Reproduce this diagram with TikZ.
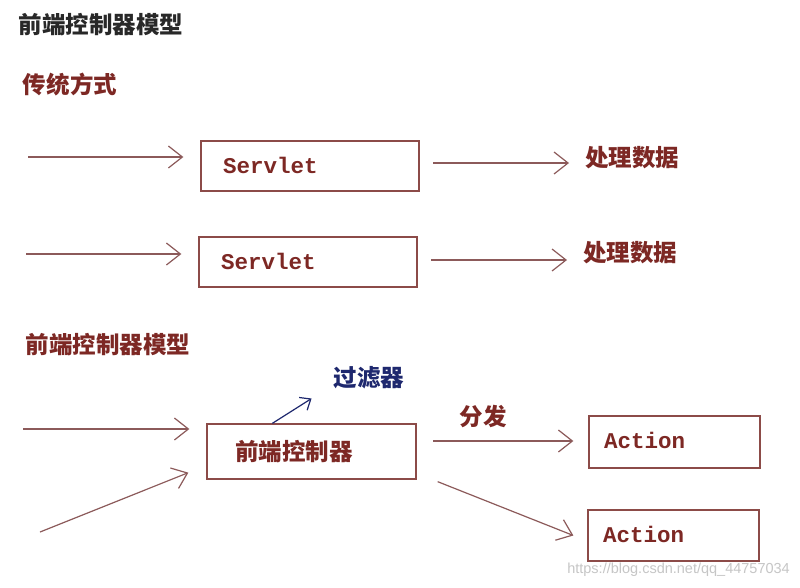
\documentclass[tikz,border=0pt]{standalone}
\usepackage{fontspec}
\newfontfamily\cjk{Noto Sans CJK SC}
\newfontfamily\mono{Liberation Mono}
\newfontfamily\wmfont{Liberation Sans}
\usetikzlibrary{arrows.meta,calc}
\definecolor{txtred}{RGB}{125,40,36}
\definecolor{boxred}{RGB}{140,75,72}
\definecolor{arrred}{RGB}{140,90,90}
\definecolor{titleblk}{RGB}{40,40,40}
\definecolor{navyblue}{RGB}{30,40,110}
\tikzset{
  cjkbold/.style={font=\cjk\bfseries\fontsize{23.5}{26}\selectfont, inner sep=0pt},
  boxnode/.style={draw=boxred, line width=1.3pt, rectangle, inner ysep=0pt, align=left,
     font=\mono\bfseries\fontsize{22.5}{24}\selectfont, text=txtred},
  arr/.style={draw=arrred, line width=1.2pt, -{Straight Barb[length=14pt,width=22pt,line width=1.2pt]}},
}
\begin{document}
\begin{tikzpicture}[x=1pt,y=-1pt]
\useasboundingbox (0,0) rectangle (800,587);
\fill[white] (0,0) rectangle (800,587);

% titles
\node[cjkbold, text=titleblk] (title) at (101,25) {前端控制器模型};
\node[cjkbold, text=txtred] (trad) at (70,84) {传统方式};
\node[cjkbold, text=txtred] (front) at (108,345) {前端控制器模型};

% traditional boxes
\node[boxnode, minimum width=218pt, minimum height=50pt, text width=174pt, inner xsep=22pt] (sv1) at (310,166) {\raisebox{1pt}{Servlet}};
\node[boxnode, minimum width=218pt, minimum height=50pt, text width=174pt, inner xsep=22pt] (sv2) at (308,262) {\raisebox{1pt}{Servlet}};
\node[cjkbold, text=txtred, anchor=west] (p1) at (585,158) {处理数据};
\node[cjkbold, text=txtred, anchor=west] (p2) at (583,253) {处理数据};

\coordinate (a1) at (28,157);
\coordinate (a2) at (26,254);
\draw[arr, shorten >=17pt] (a1) -- (sv1.west |- a1);
\draw[arr, shorten >=17pt] (a2) -- (sv2.west |- a2);
\coordinate (b1) at (419,163);
\coordinate (b2) at (417,260);
\draw[arr, shorten <=14pt, shorten >=16pt] (b1) -- (p1.west |- b1);
\draw[arr, shorten <=14pt, shorten >=16pt] (b2) -- (p2.west |- b2);

% front controller
\node[boxnode, minimum width=209pt, minimum height=55pt, text width=153pt, inner xsep=28pt,
  font=\cjk\bfseries\fontsize{23.5}{26}\selectfont] (fc) at (311.5,451.5) {\raisebox{3pt}{前端控制器}};
\node[boxnode, minimum width=171pt, minimum height=52pt, text width=141pt, inner xsep=15pt] (act1) at (674.5,442) {\raisebox{3pt}{Action}};
\node[boxnode, minimum width=171pt, minimum height=51pt, text width=141pt, inner xsep=15pt] (act2) at (673.5,535.5) {\raisebox{3pt}{Action}};
\node[cjkbold, text=navyblue] (filt) at (369,378) {过滤器};
\node[cjkbold, text=txtred] (disp) at (483,416) {分发};

\coordinate (a5) at (23,429);
\draw[arr, shorten >=17pt] (a5) -- (fc.west |- a5);
\coordinate (a6) at (40,532);
\draw[arr] (a6) -- ($(fc.south west)+(-18,-7)$);
\draw[arr, draw=navyblue, -{Straight Barb[length=9pt,width=15pt,line width=1.2pt]}] ($(fc.north west)+(66,0)$) -- ($(filt.south west)+(-22,9)$);
\coordinate (a8) at (416,441);
\draw[arr, shorten <=17pt, shorten >=15pt] (a8) -- (act1.west |- a8);
\draw[arr] ($(fc.south east)+(21,2)$) -- ($(act2.west)+(-14,0)$);

% watermark
\node[font=\wmfont\fontsize{14.5}{16}\selectfont, text=gray!45, anchor=east, inner sep=0pt] (wm) at (790,570) {https://blog.csdn.net/qq\_44757034};
\end{tikzpicture}
\end{document}
